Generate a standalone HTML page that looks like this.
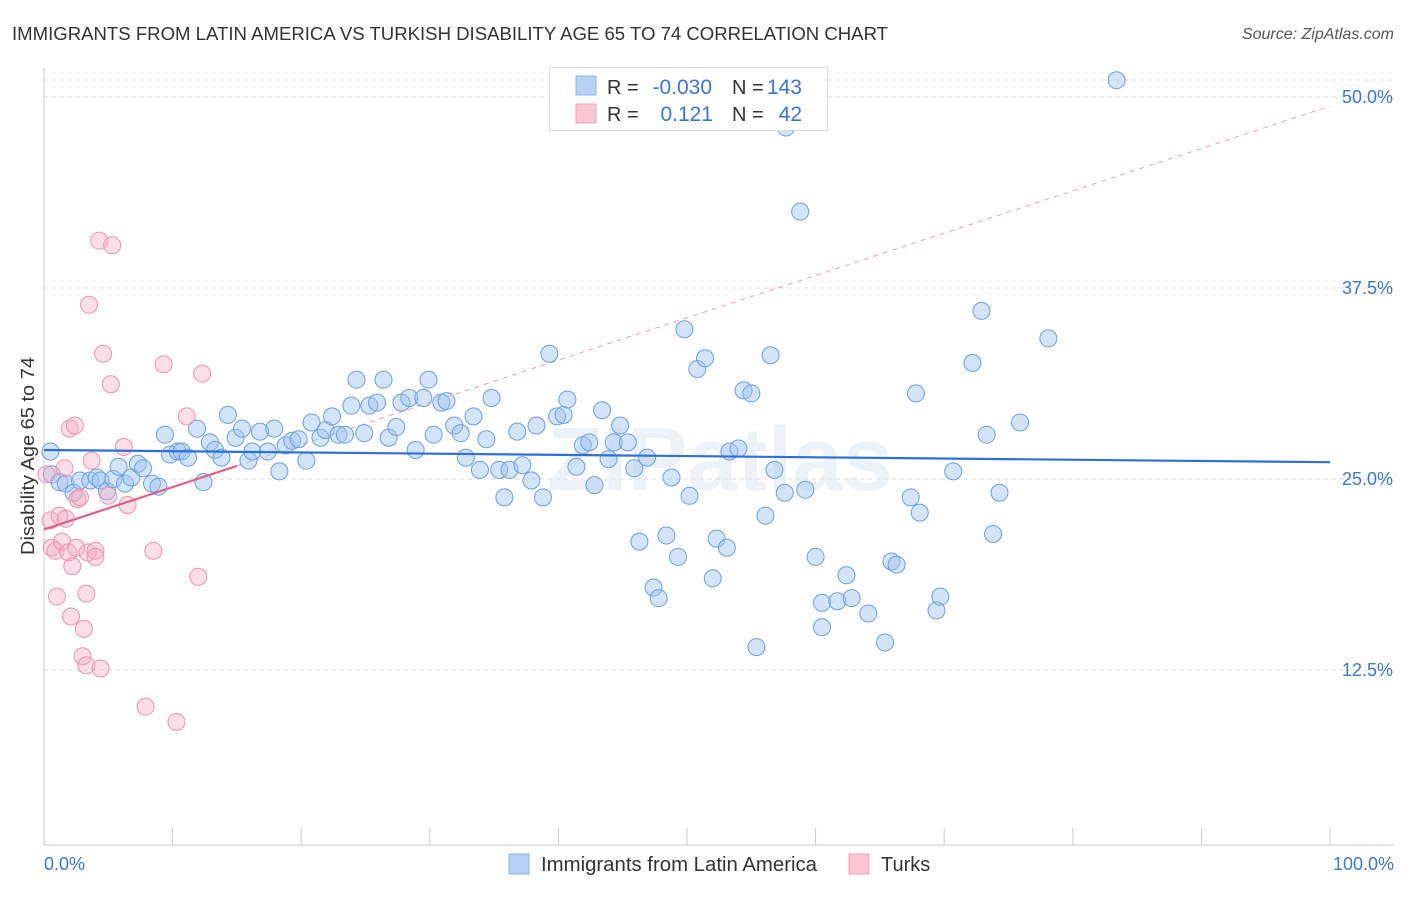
<!DOCTYPE html>
<html><head><meta charset="utf-8"><style>
body{margin:0;background:#fff;font-family:"Liberation Sans",sans-serif;}
svg text{font-family:"Liberation Sans",sans-serif;}
</style></head><body>
<svg id="chart" width="1406" height="892" xmlns="http://www.w3.org/2000/svg">
<text x="12" y="40" font-size="18.5" fill="#333" textLength="876" lengthAdjust="spacingAndGlyphs">IMMIGRANTS FROM LATIN AMERICA VS TURKISH DISABILITY AGE 65 TO 74 CORRELATION CHART</text>
<text x="1394" y="39" font-size="16" fill="#555" font-style="italic" text-anchor="end">Source: ZipAtlas.com</text>
<text x="720" y="490" font-size="90" fill="#edf2f8" text-anchor="middle" font-weight="bold">ZIPatlas</text>
<text transform="translate(34,456) rotate(-90)" font-size="18" fill="#333" text-anchor="middle" textLength="198" lengthAdjust="spacingAndGlyphs">Disability Age 65 to 74</text>
<g id="grid"></g><g id="axes"></g><g id="trends"></g><g id="pts"></g>
<g>
<rect x="549.5" y="67.5" width="278" height="63" fill="#fff" stroke="#ddd"/>
<rect x="576" y="76" width="20" height="19" fill="#b7d2f5" stroke="#8db4e8"/>
<rect x="576" y="104" width="20" height="19" fill="#fac5d5" stroke="#f0a0bb"/>
<text x="607" y="94" font-size="20" fill="#333">R =</text>
<text x="712" y="94" font-size="21" fill="#3a78d0" text-anchor="end">-0.030</text>
<text x="732" y="94" font-size="20" fill="#333">N =</text>
<text x="802" y="94" font-size="21" fill="#3a78d0" text-anchor="end">143</text>
<text x="607" y="121" font-size="20" fill="#333">R = </text>
<text x="713" y="121" font-size="21" fill="#3a78d0" text-anchor="end">0.121</text>
<text x="732" y="121" font-size="20" fill="#333">N = </text>
<text x="802" y="121" font-size="21" fill="#3a78d0" text-anchor="end">42</text>
</g>
<g>
<rect x="509" y="854" width="20" height="20" fill="#b7d2f5" stroke="#8db4e8"/>
<text x="541" y="871" font-size="20" fill="#333" textLength="276" lengthAdjust="spacingAndGlyphs">Immigrants from Latin America</text>
<rect x="849" y="854" width="20" height="20" fill="#fac5d5" stroke="#f0a0bb"/>
<text x="881" y="871" font-size="20" fill="#333">Turks</text>
</g>
</svg>
<script>
const yTicks=[12.5,25,37.5,50];
const yTickLabels=["12.5%","25.0%","37.5%","50.0%"];
const xTickLabels=["0.0%","100.0%"];
const blueX=[0.5,0.6,1.2,1.7,2.3,2.8,3.6,4.1,4.4,4.9,5.4,5.8,6.3,6.8,7.3,7.7,8.4,8.9,9.4,9.8,10.4,10.7,11.2,11.9,12.4,12.9,13.3,13.8,14.3,14.9,15.4,15.9,16.2,16.8,17.4,17.9,18.3,18.8,19.3,19.8,20.4,20.8,21.5,21.9,22.4,22.9,23.4,23.9,24.3,24.9,25.3,25.9,26.4,26.8,27.4,27.8,28.4,28.9,29.5,29.9,30.3,30.9,31.3,31.9,32.4,32.8,33.4,33.9,34.4,34.8,35.4,35.8,36.2,36.8,37.2,37.9,38.3,38.8,39.3,39.9,40.4,40.7,41.4,41.9,42.4,42.8,43.4,43.9,44.3,44.8,45.4,45.9,46.3,46.9,47.4,47.8,48.4,48.8,49.3,49.8,50.2,50.8,51.4,52.0,52.3,53.1,53.3,54.0,54.4,55.0,55.4,56.1,56.5,56.8,57.6,57.7,58.8,59.2,60.0,60.5,60.5,61.7,62.4,62.8,64.1,65.4,65.9,66.3,67.4,67.8,68.1,69.4,69.7,70.7,72.2,72.9,73.3,73.8,74.3,75.9,78.1,83.4,58.6];
const blueY=[26.8,25.3,24.8,24.7,24.1,24.9,24.9,25.1,24.9,24.2,25.0,25.8,24.7,25.1,26.0,25.7,24.7,24.5,27.9,26.6,26.8,26.8,26.4,28.3,24.8,27.4,26.9,26.4,29.2,27.7,28.3,26.2,26.8,28.1,26.8,28.3,25.5,27.2,27.5,27.6,26.2,28.7,27.7,28.2,29.1,27.9,27.9,29.8,31.5,28.0,29.8,30.0,31.5,27.7,28.4,30.0,30.3,26.9,30.3,31.5,27.9,30.0,30.1,28.5,28.0,26.4,29.1,25.6,27.6,30.3,25.6,23.8,25.6,28.1,25.9,24.9,28.5,23.8,33.2,29.1,29.2,30.2,25.8,27.2,27.4,24.6,29.5,26.3,27.4,28.5,27.4,25.7,20.9,26.4,17.9,17.2,21.3,25.1,19.9,34.8,23.9,32.2,32.9,18.5,21.1,20.5,26.8,27.0,30.8,30.6,14.0,22.6,33.1,25.6,24.1,48.0,42.5,24.3,19.9,15.3,16.9,17.0,18.7,17.2,16.2,14.3,19.6,19.4,23.8,30.6,22.8,16.4,17.3,25.5,32.6,36.0,27.9,21.4,24.1,28.7,34.2,51.1,50.3];
const pinkX=[0.2,0.5,0.6,0.9,1.0,1.2,1.4,1.6,1.7,1.9,2.0,2.2,2.4,2.5,2.6,2.8,3.0,3.1,3.3,3.3,3.4,3.7,4.0,4.0,4.3,4.4,4.6,5.0,5.2,5.3,3.5,6.2,6.5,7.9,8.5,9.3,10.3,11.1,12.0,12.3,2.1];
const pinkY=[25.3,22.3,20.5,20.3,17.3,22.6,20.9,25.7,22.4,20.2,28.3,19.3,28.5,20.5,23.7,23.8,13.4,15.2,17.5,12.8,20.2,26.2,20.3,19.9,40.6,12.6,33.2,23.9,31.2,40.3,36.4,27.1,23.3,10.1,20.3,32.5,9.1,29.1,18.6,31.9,16.0];
const blueTrend=[26.9,26.1];
const pinkTrend=[21.7,49.4];
const X=v=>44+v*12.86, Y=v=>861-v*15.28;
const NS="http://www.w3.org/2000/svg";
function mk(tag,attrs,parent){const e=document.createElementNS(NS,tag);for(const k in attrs)e.setAttribute(k,attrs[k]);document.getElementById(parent).appendChild(e);return e;}
let g=mk('line',{x1:44,x2:1394,y1:80,y2:80,stroke:'#ddd','stroke-dasharray':'4,4'},'grid');


yTicks.forEach((t,i)=>{
 const l=mk('line',{x1:44,x2:1394,y1:Y(t),y2:Y(t),stroke:'#ddd','stroke-dasharray':'4,4'},'grid');
 
 
 const tx=mk('text',{x:1393,y:Y(t)+6,'font-size':18,fill:'#3a78d0','text-anchor':'end'},'grid');
 tx.textContent=yTickLabels[i];
 
 
});
let a=mk('line',{x1:44,x2:44,y1:68,y2:845,stroke:'#ccc'},'axes');


a=mk('line',{x1:44,x2:1394,y1:845,y2:845,stroke:'#ccc'},'axes');


for(let i=1;i<=10;i++){const t=mk('line',{x1:X(i*10),x2:X(i*10),y1:828,y2:845,stroke:'#ccc'},'axes');
 
 }
[[0,'start',44],[1,'end',1394]].forEach(([i,an,x])=>{const t=mk('text',{x:x,y:870,'font-size':18,fill:'#3a78d0','text-anchor':an},'axes');t.textContent=xTickLabels[i];
 
 });
let tl=mk('line',{x1:X(15),y1:Y(pinkTrend[0]+(pinkTrend[1]-pinkTrend[0])*0.15),x2:X(100),y2:Y(pinkTrend[1]),stroke:'#eaa0b8','stroke-dasharray':'5,5','stroke-width':1},'trends');


function pts(xs,ys,fill,stroke,name){xs.forEach((x,i)=>{const c=mk('circle',{cx:X(x),cy:Y(ys[i]),r:8.5,fill:fill,stroke:stroke,'stroke-width':1},'pts');
 
 });}
pts(blueX,blueY,'rgba(160,196,240,0.45)','#6c9fe0','latin-america-point');
pts(pinkX,pinkY,'rgba(246,172,196,0.4)','#ea94b2','turks-point');
tl=mk('line',{x1:X(0),y1:Y(blueTrend[0]),x2:X(100),y2:Y(blueTrend[1]),stroke:'#2f6fd6','stroke-width':2.2},'pts');


tl=mk('line',{x1:X(0),y1:Y(pinkTrend[0]),x2:X(15),y2:Y(pinkTrend[0]+(pinkTrend[1]-pinkTrend[0])*0.15),stroke:'#e0608a','stroke-width':2.2},'pts');


</script>
</body></html>
